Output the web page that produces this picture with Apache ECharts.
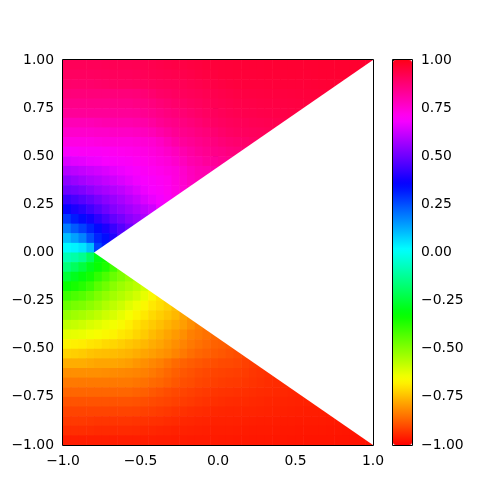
<!DOCTYPE html>
<html><head><meta charset="utf-8">
<script src="https://cdn.jsdelivr.net/npm/echarts@6/dist/echarts.min.js"></script>
<style>html,body{margin:0;padding:0;background:#fff}#c{width:500px;height:500px}</style>
</head><body><div id="c"></div>
<script>
// ---- data ----
const xCenters = [-0.975,-0.925,-0.875,-0.825,-0.775,-0.725,-0.675,-0.625,-0.575,-0.525,-0.475,-0.425,-0.375,-0.325,-0.275,-0.225,-0.175,-0.125,-0.075,-0.025,
                  0.025,0.075,0.125,0.175,0.225,0.275,0.325,0.375,0.425,0.475,0.525,0.575,0.625,0.675,0.725,0.775,0.825,0.875,0.925,0.975];
const yCenters = [0.975,0.925,0.875,0.825,0.775,0.725,0.675,0.625,0.575,0.525,0.475,0.425,0.375,0.325,0.275,0.225,0.175,0.125,0.075,0.025,
                  -0.025,-0.075,-0.125,-0.175,-0.225,-0.275,-0.325,-0.375,-0.425,-0.475,-0.525,-0.575,-0.625,-0.675,-0.725,-0.775,-0.825,-0.875,-0.925,-0.975];
// one row per yCenter, values from the left edge up to the masked wedge
const rows = [
 [0.915,0.915,0.915,0.915,0.916,0.918,0.92,0.92,0.92,0.922,0.925,0.928,0.932,0.936,0.939,0.942,0.946,0.949,0.952,0.955,0.957,0.958,0.959,0.96,0.961,0.962,0.963,0.964,0.965,0.966,0.966,0.967,0.967,0.968,0.968,0.969,0.969,0.97,0.97,0.97],
 [0.905,0.905,0.905,0.905,0.906,0.908,0.91,0.91,0.91,0.913,0.917,0.921,0.923,0.926,0.928,0.931,0.935,0.94,0.945,0.949,0.952,0.954,0.955,0.956,0.957,0.958,0.959,0.96,0.96,0.961,0.961,0.962,0.963,0.964,0.964,0.965,0.965,0.966,0.967],
 [0.89,0.89,0.89,0.89,0.893,0.895,0.898,0.90,0.90,0.902,0.904,0.907,0.911,0.914,0.916,0.919,0.924,0.929,0.934,0.939,0.943,0.947,0.95,0.952,0.953,0.953,0.954,0.955,0.956,0.956,0.957,0.958,0.959,0.96,0.961,0.962,0.962],
 [0.87,0.87,0.87,0.87,0.87,0.87,0.87,0.87,0.87,0.873,0.878,0.886,0.895,0.9,0.905,0.91,0.914,0.918,0.923,0.928,0.932,0.936,0.94,0.943,0.945,0.946,0.947,0.948,0.949,0.95,0.951,0.952,0.954,0.955,0.957],
 [0.85,0.85,0.85,0.85,0.85,0.85,0.85,0.85,0.85,0.855,0.858,0.865,0.875,0.882,0.89,0.896,0.902,0.908,0.914,0.92,0.925,0.929,0.932,0.935,0.937,0.939,0.94,0.942,0.943,0.944,0.946,0.948,0.95],
 [0.83,0.83,0.83,0.83,0.83,0.83,0.83,0.83,0.83,0.832,0.838,0.845,0.855,0.865,0.872,0.88,0.888,0.896,0.903,0.91,0.915,0.92,0.924,0.928,0.93,0.932,0.934,0.936,0.938,0.94,0.942],
 [0.79,0.79,0.79,0.79,0.795,0.80,0.80,0.80,0.80,0.805,0.81,0.82,0.835,0.845,0.853,0.862,0.87,0.88,0.89,0.9,0.905,0.91,0.914,0.917,0.92,0.922,0.924,0.927,0.93,0.933],
 [0.76,0.76,0.76,0.76,0.765,0.765,0.77,0.77,0.77,0.775,0.78,0.79,0.805,0.82,0.835,0.845,0.853,0.863,0.872,0.882,0.892,0.9,0.905,0.908,0.91,0.912,0.915,0.92],
 [0.73,0.73,0.73,0.73,0.735,0.74,0.74,0.74,0.74,0.745,0.75,0.755,0.77,0.79,0.81,0.825,0.835,0.845,0.855,0.865,0.875,0.882,0.888,0.893,0.898,0.905],
 [0.69,0.695,0.70,0.70,0.70,0.705,0.71,0.715,0.72,0.725,0.73,0.74,0.75,0.765,0.78,0.80,0.815,0.83,0.84,0.85,0.855,0.865,0.87,0.88],
 [0.645,0.655,0.66,0.67,0.675,0.685,0.69,0.695,0.70,0.71,0.715,0.725,0.735,0.745,0.76,0.78,0.80,0.81,0.825,0.83,0.84,0.845],
 [0.595,0.605,0.615,0.625,0.635,0.645,0.66,0.67,0.68,0.69,0.70,0.71,0.72,0.73,0.74,0.76,0.78,0.795,0.80,0.81,0.825],
 [0.545,0.56,0.575,0.59,0.60,0.615,0.63,0.645,0.66,0.675,0.685,0.695,0.705,0.715,0.735,0.755,0.775,0.79,0.80],
 [0.50,0.51,0.525,0.545,0.565,0.58,0.595,0.61,0.63,0.65,0.67,0.685,0.695,0.71,0.73,0.75,0.77],
 [0.43,0.45,0.47,0.49,0.515,0.54,0.56,0.58,0.60,0.62,0.645,0.665,0.68,0.70,0.725],
 [0.36,0.39,0.41,0.44,0.47,0.50,0.53,0.55,0.57,0.59,0.61,0.63,0.67],
 [0.28,0.32,0.35,0.38,0.415,0.45,0.485,0.51,0.54,0.56,0.585,0.61],
 [0.19,0.235,0.27,0.31,0.35,0.39,0.43,0.465,0.50,0.54],
 [0.10,0.14,0.18,0.25,0.31,0.34,0.40,0.46],
 [0.02,0.03,0.05,0.10,0.27,0.32],
 [-0.08,-0.10,-0.13,-0.20,-0.30,-0.34],
 [-0.16,-0.20,-0.24,-0.29,-0.33,-0.36,-0.41,-0.47],
 [-0.25,-0.285,-0.315,-0.345,-0.385,-0.42,-0.46,-0.49,-0.52,-0.55],
 [-0.33,-0.35,-0.37,-0.40,-0.44,-0.47,-0.505,-0.53,-0.55,-0.57,-0.60,-0.635],
 [-0.40,-0.42,-0.435,-0.46,-0.49,-0.515,-0.54,-0.56,-0.58,-0.60,-0.63,-0.665,-0.695],
 [-0.46,-0.48,-0.49,-0.51,-0.53,-0.555,-0.575,-0.595,-0.62,-0.64,-0.665,-0.69,-0.705,-0.72,-0.745],
 [-0.52,-0.535,-0.545,-0.56,-0.575,-0.595,-0.61,-0.63,-0.65,-0.67,-0.69,-0.71,-0.725,-0.74,-0.755,-0.78,-0.80],
 [-0.575,-0.585,-0.595,-0.61,-0.62,-0.635,-0.645,-0.66,-0.68,-0.70,-0.715,-0.73,-0.745,-0.76,-0.775,-0.79,-0.81,-0.83,-0.845],
 [-0.625,-0.63,-0.635,-0.645,-0.655,-0.665,-0.675,-0.69,-0.70,-0.715,-0.73,-0.75,-0.765,-0.78,-0.795,-0.81,-0.83,-0.84,-0.85,-0.86,-0.87],
 [-0.675,-0.68,-0.685,-0.695,-0.70,-0.71,-0.715,-0.725,-0.735,-0.745,-0.755,-0.77,-0.78,-0.795,-0.81,-0.825,-0.84,-0.85,-0.86,-0.87,-0.875,-0.88],
 [-0.72,-0.725,-0.73,-0.74,-0.745,-0.748,-0.75,-0.755,-0.76,-0.77,-0.78,-0.79,-0.80,-0.81,-0.825,-0.84,-0.855,-0.865,-0.872,-0.88,-0.885,-0.892,-0.898,-0.905],
 [-0.77,-0.77,-0.77,-0.775,-0.78,-0.78,-0.78,-0.785,-0.79,-0.80,-0.81,-0.82,-0.83,-0.845,-0.86,-0.87,-0.878,-0.885,-0.892,-0.897,-0.902,-0.904,-0.908,-0.915,-0.92,-0.925],
 [-0.81,-0.81,-0.81,-0.81,-0.81,-0.812,-0.815,-0.818,-0.82,-0.825,-0.83,-0.84,-0.85,-0.862,-0.875,-0.885,-0.892,-0.90,-0.905,-0.91,-0.913,-0.915,-0.918,-0.922,-0.928,-0.932,-0.936,-0.94],
 [-0.84,-0.84,-0.84,-0.84,-0.84,-0.84,-0.84,-0.84,-0.84,-0.845,-0.85,-0.86,-0.865,-0.875,-0.885,-0.895,-0.90,-0.908,-0.912,-0.917,-0.92,-0.923,-0.925,-0.928,-0.932,-0.936,-0.94,-0.943,-0.945,-0.948],
 [-0.865,-0.865,-0.865,-0.865,-0.865,-0.865,-0.865,-0.865,-0.865,-0.87,-0.875,-0.883,-0.89,-0.898,-0.905,-0.91,-0.915,-0.92,-0.925,-0.93,-0.932,-0.934,-0.936,-0.938,-0.94,-0.943,-0.945,-0.947,-0.949,-0.951,-0.953],
 [-0.89,-0.89,-0.89,-0.89,-0.89,-0.89,-0.89,-0.89,-0.89,-0.893,-0.897,-0.902,-0.906,-0.91,-0.915,-0.92,-0.925,-0.93,-0.934,-0.938,-0.941,-0.943,-0.944,-0.945,-0.947,-0.949,-0.951,-0.953,-0.954,-0.955,-0.956,-0.957,-0.958],
 [-0.91,-0.91,-0.91,-0.91,-0.91,-0.91,-0.91,-0.91,-0.91,-0.912,-0.915,-0.918,-0.922,-0.926,-0.931,-0.935,-0.939,-0.942,-0.945,-0.948,-0.95,-0.951,-0.951,-0.952,-0.953,-0.954,-0.955,-0.956,-0.958,-0.959,-0.96,-0.961,-0.962,-0.962,-0.963],
 [-0.925,-0.925,-0.925,-0.927,-0.93,-0.93,-0.93,-0.93,-0.93,-0.932,-0.934,-0.936,-0.938,-0.942,-0.945,-0.948,-0.95,-0.952,-0.954,-0.956,-0.957,-0.957,-0.958,-0.959,-0.96,-0.961,-0.962,-0.963,-0.964,-0.964,-0.965,-0.965,-0.966,-0.966,-0.967,-0.968,-0.968],
 [-0.94,-0.94,-0.94,-0.942,-0.945,-0.945,-0.945,-0.945,-0.945,-0.946,-0.948,-0.95,-0.952,-0.954,-0.956,-0.957,-0.958,-0.959,-0.96,-0.961,-0.962,-0.962,-0.963,-0.964,-0.965,-0.966,-0.966,-0.967,-0.968,-0.968,-0.969,-0.969,-0.97,-0.97,-0.971,-0.971,-0.972,-0.972,-0.973],
 [-0.962,-0.962,-0.962,-0.962,-0.962,-0.962,-0.962,-0.962,-0.962,-0.962,-0.962,-0.962,-0.963,-0.963,-0.964,-0.964,-0.965,-0.965,-0.966,-0.966,-0.967,-0.967,-0.968,-0.968,-0.969,-0.97,-0.97,-0.971,-0.971,-0.972,-0.972,-0.973,-0.973,-0.974,-0.974,-0.975,-0.975,-0.976,-0.976,-0.977]
];
// masked (empty) wedge, in data coordinates
const maskVertices = [[-0.8,0],[1,1],[1,-1]];
const xTicks = [-1,-0.5,0,0.5,1];
const yTicks = [-1,-0.75,-0.5,-0.25,0,0.25,0.5,0.75,1];
const cbarTicks = [-1,-0.75,-0.5,-0.25,0,0.25,0.5,0.75,1];

// ---- matplotlib 'hsv' colormap anchors ----
const hsvR = [[0,1],[10/63,1],[11/63,0.96875],[21/63,0.03125],[22/63,0],[42/63,0],[43/63,0.03125],[53/63,0.96875],[54/63,1],[1,1]];
const hsvG = [[0,0],[10/63,0.9375],[11/63,1],[32/63,1],[42/63,0.0625],[43/63,0],[1,0]];
const hsvB = [[0,0],[21/63,0],[22/63,0.0625],[32/63,1],[53/63,1],[54/63,0.9375],[1,0.09375]];
function seg(tab, t){
  for (let i=1;i<tab.length;i++){
    if (t <= tab[i][0] + 1e-9){
      const a=tab[i-1], b=tab[i];
      const f = (t-a[0])/((b[0]-a[0])||1);
      return a[1] + f*(b[1]-a[1]);
    }
  }
  return tab[tab.length-1][1];
}
const cmap = [];
for (let k=0;k<=63;k++){
  const t=k/63;
  const r=Math.round(255*seg(hsvR,t)), g=Math.round(255*seg(hsvG,t)), b=Math.round(255*seg(hsvB,t));
  cmap.push('rgb('+r+','+g+','+b+')');
}

const cells = [];
rows.forEach((row, ri) => row.forEach((v, ci) => cells.push([xCenters[ci], yCenters[ri], v])));
const dx = xCenters[1]-xCenters[0];
const dy = yCenters[0]-yCenters[1];

const fmt = d => v => (v < 0 ? '\u2212' : '') + Math.abs(v).toFixed(d);
const FONT = 'DejaVu Sans';
const labelStyle = (d) => ({color:'#000', fontSize:13.9, fontFamily:FONT, margin:9, formatter: fmt(d)});
const tickStyle = {show:true, inside:false, length:5, lineStyle:{color:'#000', width:1}};

const chart = echarts.init(document.getElementById('c'), null, {renderer:'canvas'});
chart.setOption({
  animation:false,
  backgroundColor:'#fff',
  grid:[
    {left:63, top:60, width:310, height:385, containLabel:false},
    {left:393, top:60, width:19, height:385, containLabel:false}
  ],
  xAxis:[
    {type:'value', gridIndex:0, min:xTicks[0], max:xTicks[xTicks.length-1], interval:0.5, axisLine:{show:false}, axisTick:tickStyle,
     splitLine:{show:false}, axisLabel:labelStyle(1)},
    {type:'value', gridIndex:1, min:0, max:1, show:false}
  ],
  yAxis:[
    {type:'value', gridIndex:0, min:yTicks[0], max:yTicks[yTicks.length-1], interval:0.25, axisLine:{show:false}, axisTick:tickStyle,
     splitLine:{show:false}, axisLabel:labelStyle(2)},
    {type:'value', gridIndex:1, position:'right', min:cbarTicks[0], max:cbarTicks[cbarTicks.length-1], interval:0.25, axisLine:{show:false}, axisTick:tickStyle,
     splitLine:{show:false}, axisLabel:labelStyle(2)}
  ],
  visualMap:{
    type:'continuous', min:-1, max:1, dimension:2, seriesIndex:0,
    calculable:false, hoverLink:false, realtime:false,
    left:393, top:60, itemWidth:19, itemHeight:385, padding:0,
    inRange:{color:cmap}, text:null, showLabel:false
  },
  graphic:[
    {type:'rect', z:100, shape:{x:62.5, y:59.5, width:311, height:386}, style:{fill:'transparent', stroke:'#000', lineWidth:1}},
    {type:'rect', z:100, shape:{x:392.5, y:59.5, width:20, height:386}, style:{fill:'transparent', stroke:'#000', lineWidth:1}}
  ],
  series:[
    {
      type:'custom', xAxisIndex:0, yAxisIndex:0, clip:true,
      dimensions:['x','y','v'], encode:{x:0, y:1},
      data: cells,
      renderItem:(params, api) => {
        const x = api.value(0), y = api.value(1);
        const p0 = api.coord([x - dx/2, y + dy/2]);
        const p1 = api.coord([x + dx/2, y - dy/2]);
        return {type:'rect', shape:{x:p0[0], y:p0[1], width:p1[0]-p0[0]+0.6, height:p1[1]-p0[1]+0.6},
                style:{fill: api.visual('color')}};
      }
    },
    {
      type:'custom', xAxisIndex:0, yAxisIndex:0, clip:true, z:5, silent:true,
      data:[maskVertices[0]], encode:{x:0, y:1},
      renderItem:(params, api) => ({
        type:'polygon', shape:{points: maskVertices.map(p => api.coord(p))}, style:{fill:'#fff'}
      })
    }
  ]
});
</script></body></html>
